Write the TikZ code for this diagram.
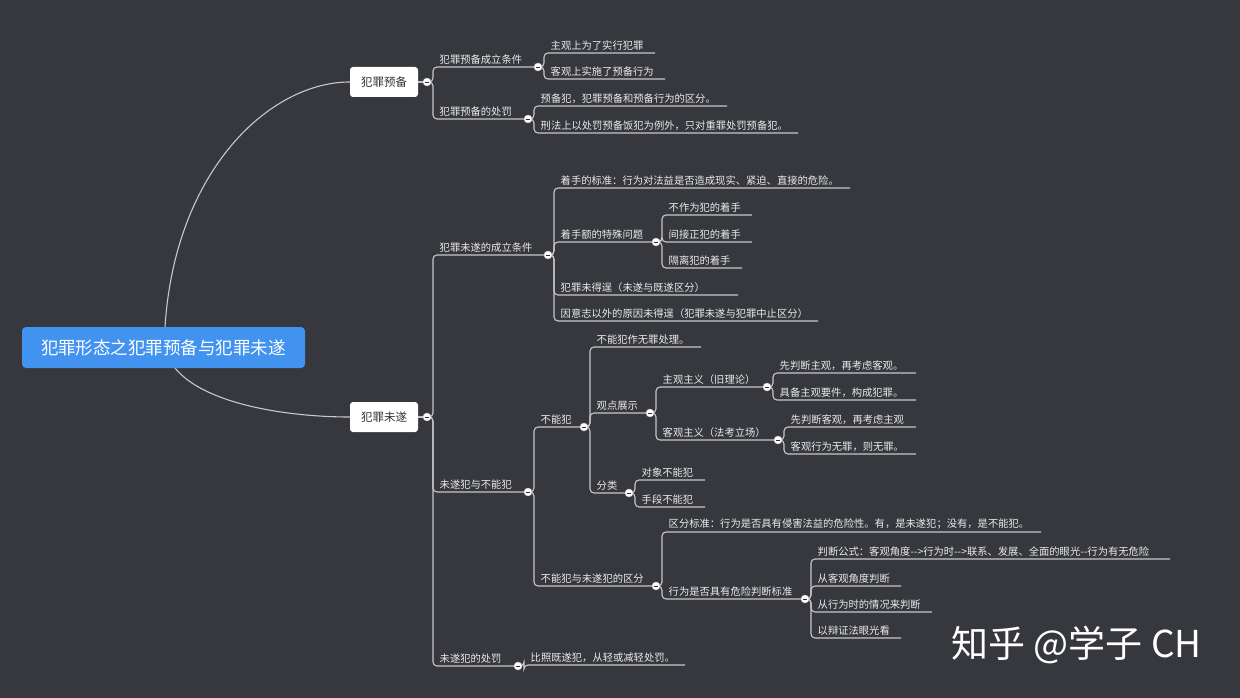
\documentclass[tikz,border=0pt]{standalone}
\usepackage{fontspec}
\setmainfont{Noto Sans CJK SC}
\usetikzlibrary{calc}
\definecolor{bg}{RGB}{54,56,61}
\definecolor{ln}{RGB}{200,200,200}
\definecolor{tx}{RGB}{235,235,235}
\definecolor{rootc}{RGB}{66,146,240}
\tikzset{
 ln/.style={draw=ln,line width=1.1pt,rounded corners=4pt},
 lbl/.style={anchor=south west,inner sep=2.5pt,xshift=4pt,font=\fontsize{10.3}{12}\selectfont,text=tx},
 box/.style={draw=none,fill=white,rounded corners=3pt,minimum width=68pt,minimum height=30pt,font=\fontsize{11.5}{13}\selectfont,text=black!80},
 dotc/.style={circle,fill=white,draw=ln,inner sep=0pt,minimum size=8pt}
}
\newcommand\br[5]{%
 \coordinate (#2) at (#3,#4);
 \draw[ln] (#1) -- ++(6,0) |- (#2);
 \path (#1) ++(6,0) coordinate (t#2);
 \node[lbl] (n#2) at (t#2 |- #2) {#5};}
\newcommand\mdot[1]{\node[dotc] (d#1) at (#1) {}; \draw[bg!80!black,line width=0.9pt] ($(#1)+(-2.2,0)$) -- ($(#1)+(2.2,0)$);}
\begin{document}
\begin{tikzpicture}[x=1pt,y=-1pt]
\useasboundingbox[fill=bg] (0,0) rectangle (1240,698);
\node[fill=rootc,rounded corners=4pt,minimum width=283pt,minimum height=41pt,text=white,font=\fontsize{17.5}{20}\selectfont] (root) at (163.5,347.5) {犯罪形态之犯罪预备与犯罪未遂};
\node[box] (A) at (384,82) {犯罪预备};
\node[box] (B) at (384,417) {犯罪未遂};
\draw[ln] (165,327) .. controls (175,170) and (270,82) .. (A.west);
\draw[ln] (175,368) .. controls (205,405) and (290,417) .. (B.west);
\coordinate (a) at (427,82); \coordinate (b) at (427,417);
\draw[ln] (A.east) -- (a); \draw[ln] (B.east) -- (b);
% branch A
\br{a}{a1}{538}{67}{犯罪预备成立条件}
\br{a1}{a11}{655}{53}{主观上为了实行犯罪}
\br{a1}{a12}{665}{79}{客观上实施了预备行为}
\br{a}{a2}{528}{119}{犯罪预备的处罚}
\br{a2}{a21}{727}{106}{预备犯，犯罪预备和预备行为的区分。}
\br{a2}{a22}{798}{133}{刑法上以处罚预备饭犯为例外，只对重罪处罚预备犯。}
% branch B
\br{b}{b1}{548}{255}{犯罪未遂的成立条件}
\br{b1}{b11}{850}{188}{着手的标准：行为对法益是否造成现实、紧迫、直接的危险。}
\br{b1}{b12}{656}{242}{着手额的特殊问题}
\br{b12}{b121}{752}{215}{不作为犯的着手}
\br{b12}{b122}{752}{242}{间接正犯的着手}
\br{b12}{b123}{742}{268}{隔离犯的着手}
\br{b1}{b13}{738}{295}{犯罪未得逞（未遂与既遂区分）}
\br{b1}{b14}{818}{321}{因意志以外的原因未得逞（犯罪未遂与犯罪中止区分）}
\br{b}{b2}{528}{492}{未遂犯与不能犯}
\br{b2}{b21}{584}{427}{不能犯}
\br{b21}{b211}{701}{347}{不能犯作无罪处理。}
\br{b21}{b212}{650}{413}{观点展示}
\br{b212}{b2121}{767}{387}{主观主义（旧理论）}
\br{b2121}{x1}{916}{373}{先判断主观，再考虑客观。}
\br{b2121}{x2}{916}{400}{具备主观要件，构成犯罪。}
\br{b212}{b2122}{778}{440}{客观主义（法考立场）}
\br{b2122}{x3}{916}{427}{先判断客观，再考虑主观}
\br{b2122}{x4}{916}{454}{客观行为无罪，则无罪。}
\br{b21}{b213}{629}{493}{分类}
\br{b213}{x5}{705}{480}{对象不能犯}
\br{b213}{x6}{705}{507}{手段不能犯}
\br{b2}{b22}{656}{586}{不能犯与未遂犯的区分}
\br{b22}{b221}{1041}{532}{区分标准：行为是否具有侵害法益的危险性。有，是未遂犯；没有，是不能犯。}
\br{b22}{b222}{805}{599}{行为是否具有危险判断标准}
\br{b222}{y1}{1170}{559}{判断公式：客观角度-{}->行为时-{}->联系、发展、全面的眼光-{}-行为有无危险}
\br{b222}{y2}{901}{586}{从客观角度判断}
\br{b222}{y3}{932}{612}{从行为时的情况来判断}
\br{b222}{y4}{901}{638}{以辩证法眼光看}
\br{b}{b3}{518}{666}{未遂犯的处罚}
\br{b3}{b31}{685}{665}{比照既遂犯，从轻或减轻处罚。}
\foreach \p in {a,b,a1,a2,b1,b12,b2,b21,b212,b2121,b2122,b213,b22,b222,b3} {\mdot{\p}}
\node[anchor=west,text=white,font=\fontsize{37}{42}\selectfont] (wm) at (948,645) {知乎 @学子 CH};
\end{tikzpicture}
\end{document}
